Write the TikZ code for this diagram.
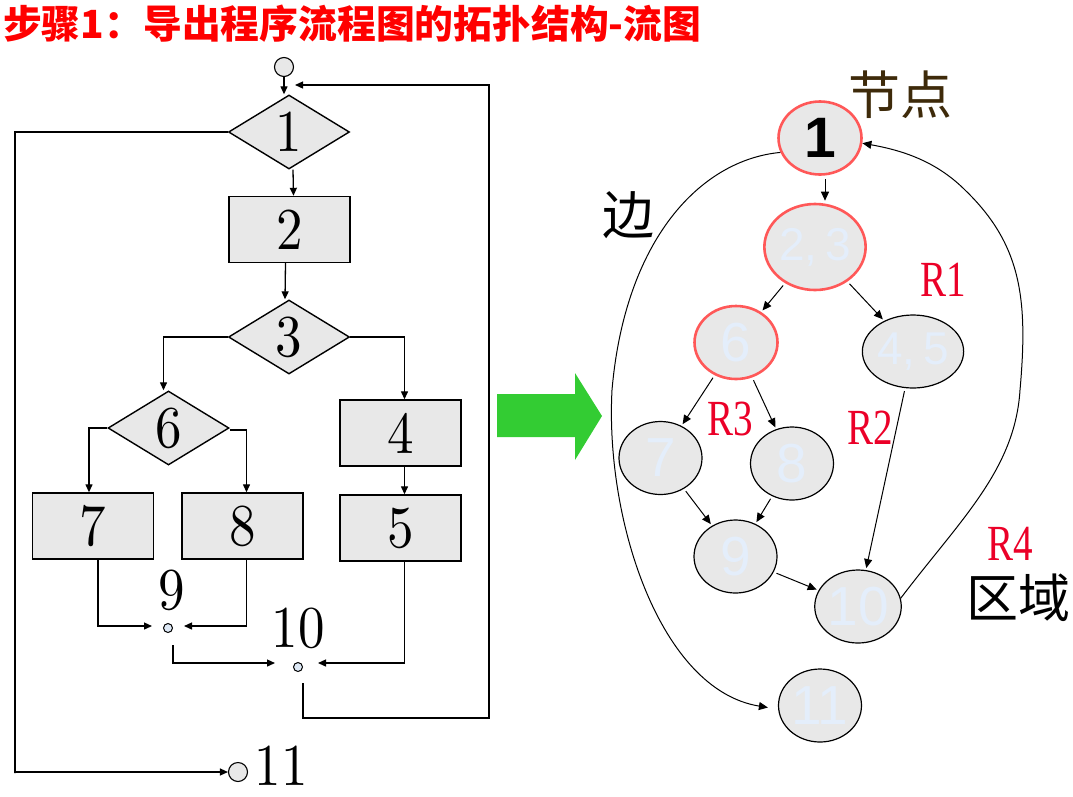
\documentclass[tikz,border=0pt]{standalone}
\usepackage{fontspec}
\newfontfamily\cjk{Noto Sans CJK SC}
\newfontfamily\arial{Liberation Sans}
\newfontfamily\tnr{Liberation Serif}
\newfontfamily\lmten{lmroman10-regular.otf}
\usetikzlibrary{arrows.meta,shapes.geometric}
\definecolor{boxgray}{RGB}{232,232,232}
\definecolor{nodered}{RGB}{255,88,88}
\definecolor{lblue}{RGB}{228,238,251}
\definecolor{rlabel}{RGB}{235,0,40}
\definecolor{brownlab}{RGB}{62,42,10}
\definecolor{jblue}{RGB}{221,232,245}
\definecolor{agreen}{RGB}{51,204,51}
\newcommand{\flnum}[1]{\scalebox{1}[1.12]{#1}}
\tikzset{
  fc/.style={draw=black, line width=1.4pt, fill=boxgray, inner sep=0pt},
  fbox/.style={fc, rectangle, minimum width=121pt, minimum height=66pt},
  fdia/.style={fc, diamond, minimum width=121pt, minimum height=74pt},
  flab/.style={font=\lmten\fontsize{53}{53}\selectfont},
  arr/.style={-{Triangle[length=8pt,width=7pt]}, line width=1.3pt},
  junc/.style={circle, draw=black, line width=1pt, fill=jblue, minimum size=9pt, inner sep=0pt},
  term/.style={circle, draw=black, line width=1.1pt, fill=boxgray, minimum size=19pt, inner sep=0pt},
  gnode/.style={ellipse, draw=black, line width=1.2pt, fill=boxgray, minimum width=83pt, minimum height=73pt, inner sep=0pt, text=lblue, font=\arial\fontsize{55}{55}\selectfont},
  rnode/.style={gnode, draw=nodered, line width=2.6pt},
  garr/.style={-{Triangle[length=9pt,width=8pt]}, line width=1pt, shorten >=2pt, shorten <=3pt},
  rlab/.style={text=rlabel, font=\tnr\fontsize{46}{46}\selectfont},
  cjklab/.style={font=\cjk\fontsize{52}{52}\selectfont}
}
\begin{document}
\begin{tikzpicture}[x=1pt,y=-1pt]
\useasboundingbox (0,0) rectangle (1073,796);
% title
\node[anchor=west, inner sep=0pt, text=red, font=\cjk\bfseries\fontsize{38.8}{38.8}\selectfont] (title) at (3,24) {步骤1：导出程序流程图的拓扑结构-流图};
% ---------- left flowchart ----------
\node[term] (start) at (284,67) {};
\node[fdia, flab] (d1) at (289,132) {\flnum{1}};
\node[fbox, flab] (b2) at (289.5,229.5) {\flnum{2}};
\node[fdia, flab] (d3) at (289,337) {\flnum{3}};
\node[fdia, flab] (d6) at (168.5,428) {\flnum{6}};
\node[fbox, flab] (b7) at (93,526) {\flnum{7}};
\node[fbox, flab] (b8) at (242.5,526) {\flnum{8}};
\node[fbox, flab] (b4) at (400.5,433) {\flnum{4}};
\node[fbox, flab] (b5) at (400.5,528) {\flnum{5}};
\node[junc] (j9) at (168,628) {};
\node[junc] (j10) at (298,667) {};
\node[term] (e11) at (238,772) {};
\node[flab, inner sep=0pt] (l9) at (172,590) {\flnum{9}};
\node[flab, inner sep=0pt] (l10) at (298,628) {\flnum{10}};
\node[flab, inner sep=0pt] (l11) at (281,766) {\flnum{11}};
\coordinate (back) at (295,85);
\coordinate (loopR) at (489,718);
\coordinate (loopL) at (15,773);

\draw[arr] (start.south) -- (start.south |- d1.north);
\draw[arr] ([xshift=4pt]d1.south) -- ([xshift=4pt]b2.north);
\draw[arr] ([xshift=-4pt]b2.south) -- ([xshift=-4pt]d3.north);
\draw[arr] (d3.west) -| ([xshift=-5pt]d6.north);
\draw[arr] (d3.east) -| ([xshift=4pt]b4.north);
\draw[arr] (d6.west) -| ([xshift=-4pt]b7.north);
\draw[arr] ([yshift=-2pt]d6.east) -| ([xshift=4pt]b8.north);
\draw[arr] ([xshift=4pt]b4.south) -- ([xshift=4pt]b5.north);
\draw[arr] ([xshift=5pt]b7.south) |- ([xshift=-11pt,yshift=2pt]j9.west);
\draw[arr] ([xshift=4pt]b8.south) |- ([xshift=11pt,yshift=2pt]j9.east);
\draw[arr] ([xshift=5pt,yshift=-12pt]j9.south) |- ([xshift=-18pt,yshift=4pt]j10.west);
\draw[arr] ([xshift=4pt]b5.south) |- ([xshift=15pt,yshift=4pt]j10.east);
\draw[arr] ([xshift=5pt,yshift=-11pt]j10.south) |- (loopR) -- (loopR |- back) -- (back);
\draw[arr] (d1.west) -| (loopL) |- (e11.west);

% ---------- green arrow ----------
\fill[agreen] (497,394) -- (575,394) -- (575,373) -- (602,416) -- (575,460) -- (575,437) -- (497,437) -- cycle;

% ---------- right flow graph ----------
\node[rnode, text=black, font=\arial\bfseries\fontsize{57}{57}\selectfont] (n1) at (820,138) {1};
\node[rnode, minimum width=92pt, minimum height=86pt, font=\arial\fontsize{46}{46}\selectfont] (n23) at (815,247) {2,\,3};
\node[rnode] (n6) at (736,342.5) {6};
\node[gnode, font=\arial\fontsize{46}{46}\selectfont] (n45) at (913,351.5) {4,\,5};
\node[gnode] (n7) at (660.5,458) {7};
\node[gnode] (n8) at (792,463.5) {8};
\node[gnode] (n9) at (735.5,556.5) {9};
\node[gnode] (n10) at (858,606.5) {10};
\node[gnode] (n11) at (820,705.5) {11};

\draw[garr] ([xshift=5pt]n1.south) -- ([xshift=10pt]n23.north);
\draw[garr] (n23) -- (n6);
\draw[garr] (n23) -- (n45);
\draw[garr] (n6) -- (n7);
\draw[garr] (n6) -- (n8);
\draw[garr] (n7) -- (n9);
\draw[garr] (n8) -- (n9);
\draw[garr] (n9) -- (n10);
\draw[garr] (n45) -- (n10);
\draw[-{Triangle[length=9pt,width=8pt]}, line width=1pt] (n10.11) .. controls (960,520) and (1015,470) .. (1020,390) .. controls (1028,300) and (1022,245) .. (965,190) .. controls (935,160) and (900,150) .. (n1.-7);
\draw[-{Triangle[length=9pt,width=8pt]}, line width=1pt] (n1.200) .. controls (700,160) and (625,240) .. (612,390) .. controls (605,520) and (660,690) .. ([xshift=-10pt,yshift=-2pt]n11.west);

% labels
\node[cjklab, text=brownlab, inner sep=0pt] (jd) at (900,95) {节点};
\node[cjklab, inner sep=0pt] (bian) at (628,215) {边};
\node[cjklab, anchor=east, inner sep=0pt] (qy) at (1071,598) {区域};
\node[rlab, inner sep=0pt] (r1) at (943,280) {\scalebox{0.85}[1.1]{R1}};
\node[rlab, inner sep=0pt] (r3) at (730,419) {\scalebox{0.85}[1.1]{R3}};
\node[rlab, inner sep=0pt] (r2) at (870,428) {\scalebox{0.85}[1.1]{R2}};
\node[rlab, inner sep=0pt] (r4) at (1010,544) {\scalebox{0.85}[1.1]{R4}};
\end{tikzpicture}
\end{document}
